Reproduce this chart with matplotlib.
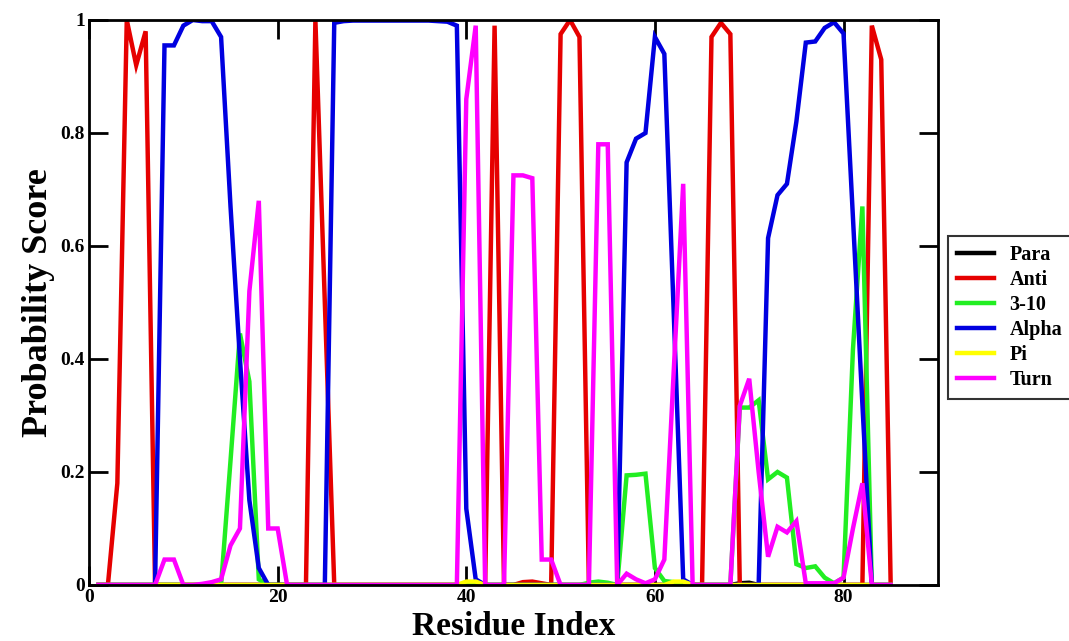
import numpy as np
import matplotlib
matplotlib.use("Agg")
import matplotlib.pyplot as plt

# residues 1..85
residues = np.arange(1, 86)

para = [0.0] * 85
para[68] = 0.003
para[69] = 0.004

anti = [0, 0, 0.18, 1.0, 0.92, 0.98, 0, 0, 0, 0,
        0, 0, 0, 0, 0, 0, 0, 0, 0, 0,
        0, 0, 0, 1.0, 0.5, 0, 0, 0, 0, 0,
        0, 0, 0, 0, 0, 0, 0, 0, 0, 0,
        0, 0, 0.99, 0, 0, 0.005, 0.006, 0.003, 0, 0.975,
        1.0, 0.97, 0, 0, 0, 0, 0, 0, 0, 0,
        0, 0, 0, 0, 0, 0.97, 0.995, 0.975, 0, 0,
        0, 0, 0, 0, 0, 0, 0, 0, 0, 0,
        0, 0, 0.99, 0.93, 0]

helix310 = [0, 0, 0, 0, 0, 0, 0, 0, 0, 0,
            0, 0, 0, 0, 0.22, 0.445, 0.36, 0.01, 0, 0,
            0, 0, 0, 0, 0, 0, 0, 0, 0, 0,
            0, 0, 0, 0, 0, 0, 0, 0, 0, 0,
            0, 0, 0, 0, 0, 0, 0, 0, 0, 0,
            0, 0, 0.004, 0.006, 0.004, 0, 0.194, 0.195, 0.197, 0.03,
            0.007, 0.005, 0, 0, 0, 0, 0, 0, 0.314, 0.314,
            0.327, 0.187, 0.2, 0.19, 0.037, 0.03, 0.033, 0.013, 0.003, 0.013,
            0.417, 0.67, 0, 0, 0]

alpha = [0, 0, 0, 0, 0, 0, 0, 0.955, 0.955, 0.99,
         1.0, 0.998, 0.998, 0.97, 0.67, 0.40, 0.15, 0.03, 0, 0,
         0, 0, 0, 0, 0, 0.995, 0.998, 0.999, 0.999, 0.999,
         0.999, 0.999, 0.999, 0.999, 0.999, 0.999, 0.998, 0.997, 0.99, 0.135,
         0.01, 0, 0, 0, 0, 0, 0, 0, 0, 0,
         0, 0, 0, 0, 0, 0, 0.748, 0.79, 0.80, 0.97,
         0.94, 0.48, 0.01, 0, 0, 0, 0, 0, 0, 0,
         0, 0.614, 0.69, 0.71, 0.82, 0.96, 0.962, 0.986, 0.996, 0.976,
         0.65, 0.32, 0, 0, 0]

pi = [0.0] * 85
pi[39] = 0.006
pi[40] = 0.006
pi[61] = 0.006
pi[62] = 0.006

turn = [0, 0, 0, 0, 0, 0, 0, 0.045, 0.045, 0,
        0, 0.002, 0.005, 0.01, 0.07, 0.10, 0.52, 0.68, 0.10, 0.10,
        0, 0, 0, 0, 0, 0, 0, 0, 0, 0,
        0, 0, 0, 0, 0, 0, 0, 0, 0, 0.86,
        0.99, 0, 0, 0, 0.725, 0.725, 0.72, 0.045, 0.045, 0,
        0, 0, 0, 0.78, 0.78, 0, 0.02, 0.01, 0.003, 0.01,
        0.045, 0.38, 0.71, 0, 0, 0, 0, 0, 0.317, 0.365,
        0.2, 0.05, 0.103, 0.093, 0.113, 0.003, 0.003, 0.003, 0.003, 0.013,
        0.10, 0.18, 0, 0, 0]

labels = ["Para", "Anti", "3-10", "Alpha", "Pi", "Turn"]
colors = ["#000000", "#e60000", "#22ee22", "#0000e0", "#ffff00", "#ff00ff"]
series = [para, anti, helix310, alpha, pi, turn]

plt.rcParams["font.family"] = ["Liberation Serif", "DejaVu Serif"]
plt.rcParams["font.weight"] = "bold"

fig = plt.figure(figsize=(10.69, 6.41), dpi=100)
ax = fig.add_axes([0.0833, 0.0874, 0.794, 0.8814])

for y, c, lab in zip(series, colors, labels):
    ax.plot(residues, y, color=c, lw=3.2, label=lab, solid_joinstyle="miter")

ax.set_xlim(0, 90)
ax.set_ylim(0, 1)
ax.set_xticks([0, 20, 40, 60, 80])
ax.set_yticks([0, 0.2, 0.4, 0.6, 0.8, 1.0])
ax.set_yticklabels(["0", "0.2", "0.4", "0.6", "0.8", "1"])
ax.tick_params(direction="in", length=14, width=2, top=True, right=True,
               labelsize=14, pad=3)
for t in ax.get_xticklabels() + ax.get_yticklabels():
    t.set_fontweight("bold")
for s in ax.spines.values():
    s.set_linewidth(2)

ax.set_xlabel("Residue Index", fontsize=24, fontweight="bold", va="baseline")
ax.xaxis.set_label_coords(0.5, -0.088)
ax.set_ylabel("Probability Score", fontsize=26, fontweight="bold", labelpad=4)

leg = fig.legend(loc="upper left", bbox_to_anchor=(0.887, 0.632),
                 prop={"weight": "bold", "size": 14.5}, frameon=True,
                 fancybox=False, edgecolor="black", handlelength=1.8,
                 labelspacing=0.25, borderpad=0.45, handletextpad=0.8,
                 borderaxespad=0)
leg.get_frame().set_linewidth(1.5)
for h in leg.get_lines():
    h.set_linewidth(3.2)

fig.savefig("out.png", dpi=100)
